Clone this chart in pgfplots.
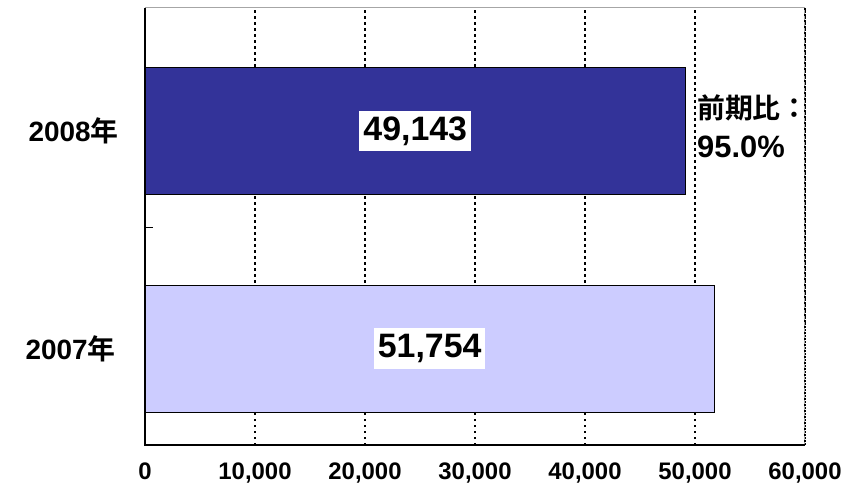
\documentclass[border=0pt]{standalone}
\usepackage{pgfplots}
\pgfplotsset{compat=1.18}
\usepackage{fontspec}
\setmainfont{Liberation Sans}
\newfontfamily\cjk{Noto Sans CJK JP}[BoldFont={* Bold}]
\definecolor{darkbar}{HTML}{333399}
\definecolor{lightbar}{HTML}{CCCCFF}
\begin{document}
\begin{tikzpicture}
\path[use as bounding box] (-145bp,-43bp) rectangle (705bp,445bp);
\begin{axis}[
  at={(0,0)}, anchor=south west,
  scale only axis, width=660bp, height=437bp,
  xmin=0, xmax=60000, ymin=-0.4437, ymax=1.5655,
  xbar, bar width=127bp,
  axis line style={draw=none},
  xtick={0,10000,20000,30000,40000,50000,60000},
  xmajorgrids, major grid style={black, dash pattern=on 2.5bp off 3.5bp, line width=1.5pt},
  x tick style={draw=none},
  scaled x ticks=false,
  xticklabel style={font=\bfseries\fontsize{24}{24}\selectfont, yshift=-14bp},
  /pgf/number format/assume math mode=true,
  /pgf/number format/1000 sep={,},
  ytick={0.5586,1.5655}, yticklabels={}, ytick pos=left,
  y tick style={black, line width=1pt}, tick align=inside, major tick length=8bp,
  clip=false,
]
\addplot[fill=darkbar, draw=black, line width=0.8pt, bar shift=0pt] coordinates {(49143,1)};
\addplot[fill=lightbar, draw=black, line width=0.8pt, bar shift=0pt] coordinates {(51754,0)};
\draw[gray!70, line width=1pt] (rel axis cs:0,1) -- (rel axis cs:1,1) -- (rel axis cs:1,0);
\draw[black, dash pattern=on 2.5bp off 3.5bp, line width=1.5pt] (rel axis cs:1,1) -- (rel axis cs:1,0);
\draw[black, line width=1.3pt] (rel axis cs:0,1) -- (rel axis cs:0,0) -- (rel axis cs:1,0);
\node[anchor=east, font=\bfseries\fontsize{28}{28}\selectfont] at (axis cs:0,1) [xshift=-23bp] {2008{\cjk\bfseries 年}};
\node[anchor=east, font=\bfseries\fontsize{28}{28}\selectfont] at (axis cs:0,0) [xshift=-26bp] {2007{\cjk\bfseries 年}};
\node[fill=white, inner xsep=4bp, inner ysep=6bp, font=\bfseries\fontsize{34}{34}\selectfont] at (axis cs:24571,1) {49,143};
\node[fill=white, inner xsep=4bp, inner ysep=6bp, font=\bfseries\fontsize{34}{34}\selectfont] at (axis cs:25877,0) {51,754};
\node[anchor=north west, align=left, inner sep=0pt, font=\bfseries\fontsize{31}{40}\selectfont] at (axis cs:50182,1.17) {{\cjk\bfseries\fontsize{28}{28}\selectfont 前期比：}\\95.0\%};
\end{axis}
\end{tikzpicture}
\end{document}
